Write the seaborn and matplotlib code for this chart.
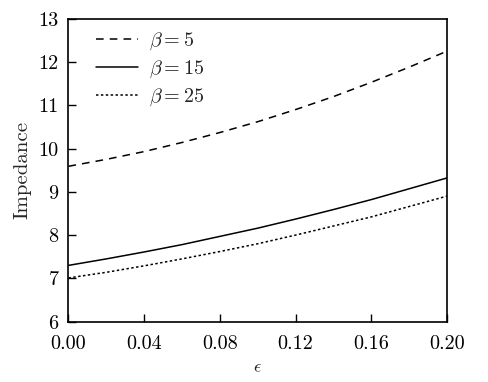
import numpy as np
import pandas as pd
import matplotlib
matplotlib.use('Agg')
import matplotlib.pyplot as plt
import seaborn as sns

# values
eps = [0.00, 0.02, 0.04, 0.06, 0.08, 0.10, 0.12, 0.14, 0.16, 0.18, 0.20]
z_beta5 = [9.59, 9.75, 9.93, 10.14, 10.37, 10.62, 10.90, 11.20, 11.53, 11.88, 12.25]
z_beta15 = [7.30, 7.45, 7.61, 7.78, 7.97, 8.16, 8.37, 8.59, 8.82, 9.07, 9.32]
z_beta25 = [7.01, 7.14, 7.29, 7.45, 7.62, 7.80, 8.00, 8.21, 8.42, 8.66, 8.90]
labels = [r'$\beta=5$', r'$\beta=15$', r'$\beta=25$']
xticks = [0.00, 0.04, 0.08, 0.12, 0.16, 0.20]
yticks = [6, 7, 8, 9, 10, 11, 12, 13]

df = pd.DataFrame({
    'eps': eps * 3,
    'Impedance': z_beta5 + z_beta15 + z_beta25,
    'beta': [labels[0]] * len(eps) + [labels[1]] * len(eps) + [labels[2]] * len(eps),
})

sns.set_style('ticks')
plt.rcParams['font.family'] = 'serif'
plt.rcParams['font.serif'] = ['cmr10', 'DejaVu Serif']
plt.rcParams['mathtext.fontset'] = 'cm'
plt.rcParams['axes.unicode_minus'] = False
plt.rcParams['axes.formatter.use_mathtext'] = True

fig = plt.figure(figsize=(4.89, 3.82), dpi=100)
ax = fig.add_axes([0.140, 0.158, 0.774, 0.793])

sns.lineplot(data=df, x='eps', y='Impedance', hue='beta', style='beta',
             palette=['black'] * 3,
             dashes={labels[0]: (5, 4), labels[1]: '', labels[2]: (1.6, 1.6)},
             linewidth=1.1, ax=ax)

ax.set_xlim(0, 0.2)
ax.set_ylim(6, 13)
ax.set_xticks(xticks)
ax.set_xticklabels([f'{t:.2f}' for t in xticks])
ax.set_yticks(yticks)
ax.set_yticklabels([str(t) for t in yticks])
ax.tick_params(direction='in', length=6, width=1, labelsize=14.5, colors='black',
               top=False, right=False)
ax.tick_params(axis='x', pad=10)
ax.tick_params(axis='y', pad=7)
for s in ax.spines.values():
    s.set_linewidth(1.2)
    s.set_color('black')

ax.set_xlabel(r'$\epsilon$', fontsize=13, labelpad=5)
ax.set_ylabel('Impedance', fontsize=15, labelpad=5)

leg = ax.legend(loc='upper left', frameon=False, fontsize=14.5, handlelength=2.1,
                handletextpad=0.55, labelspacing=0.32, borderaxespad=0.2,
                bbox_to_anchor=(0.04, 1.0))

fig.savefig('out.png', dpi=100)
